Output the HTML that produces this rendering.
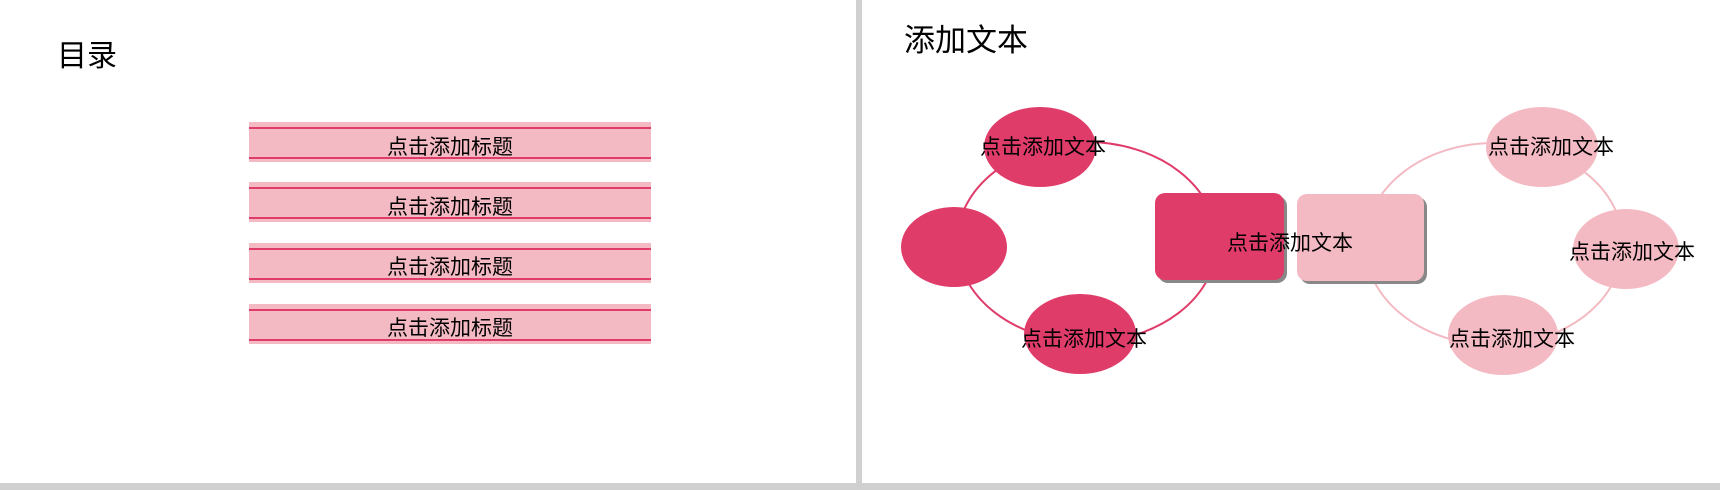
<!DOCTYPE html>
<html><head><meta charset="utf-8"><style>
html,body{margin:0;padding:0;background:#fff;}
svg{display:block}
text{font-family:"Liberation Sans","Noto Sans CJK SC",sans-serif;fill:#000;}
</style></head><body>
<svg width="1720" height="490" viewBox="0 0 1720 490" xmlns="http://www.w3.org/2000/svg">
<rect x="0" y="0" width="1720" height="490" fill="#fff"/>
<rect x="856" y="0" width="6" height="490" fill="#d0d0d0"/>
<rect x="0" y="483" width="1720" height="7" fill="#d0d0d0"/>
<text x="57" y="66" font-size="30">目录</text>
<g font-size="21" text-anchor="middle">
<rect x="249" y="122" width="402" height="40" fill="#f4bac3"/>
<rect x="249" y="127" width="402" height="2" fill="#e03c6a"/>
<rect x="249" y="157" width="402" height="2" fill="#e03c6a"/>
<text x="450" y="154">点击添加标题</text>
<rect x="249" y="182" width="402" height="40" fill="#f4bac3"/>
<rect x="249" y="187" width="402" height="2" fill="#e03c6a"/>
<rect x="249" y="217" width="402" height="2" fill="#e03c6a"/>
<text x="450" y="214">点击添加标题</text>
<rect x="249" y="243" width="402" height="40" fill="#f4bac3"/>
<rect x="249" y="248" width="402" height="2" fill="#e03c6a"/>
<rect x="249" y="278" width="402" height="2" fill="#e03c6a"/>
<text x="450" y="274">点击添加标题</text>
<rect x="249" y="304" width="402" height="40" fill="#f4bac3"/>
<rect x="249" y="309" width="402" height="2" fill="#e03c6a"/>
<rect x="249" y="339" width="402" height="2" fill="#e03c6a"/>
<text x="450" y="335">点击添加标题</text>
</g>
<text x="904" y="51" font-size="31">添加文本</text>
<ellipse cx="1087" cy="242" rx="130" ry="100" fill="none" stroke="#e03c6a" stroke-width="2"/>
<ellipse cx="1494" cy="244" rx="129" ry="101" fill="none" stroke="#f4bac3" stroke-width="2"/>
<ellipse cx="1040" cy="147" rx="56" ry="40" fill="#e03c6a"/>
<ellipse cx="954" cy="247" rx="53" ry="40" fill="#e03c6a"/>
<ellipse cx="1080" cy="334" rx="56" ry="40" fill="#e03c6a"/>
<rect x="1158" y="196" width="129" height="87" rx="10" fill="#888"/>
<rect x="1155" y="193" width="129" height="87" rx="10" fill="#e03c6a"/>
<rect x="1300" y="197" width="127" height="87" rx="10" fill="#888"/>
<rect x="1297" y="194" width="127" height="87" rx="10" fill="#f4bac3"/>
<ellipse cx="1542" cy="147" rx="56" ry="40" fill="#f4bac3"/>
<ellipse cx="1626" cy="249" rx="53" ry="40" fill="#f4bac3"/>
<ellipse cx="1503" cy="335" rx="55" ry="40" fill="#f4bac3"/>
<g font-size="21" text-anchor="middle">
<text x="1043" y="154">点击添加文本</text>
<text x="1084" y="346">点击添加文本</text>
<text x="1290" y="250">点击添加文本</text>
<text x="1551" y="154">点击添加文本</text>
<text x="1632" y="259">点击添加文本</text>
<text x="1512" y="346">点击添加文本</text>
</g>
</svg>
</body></html>
